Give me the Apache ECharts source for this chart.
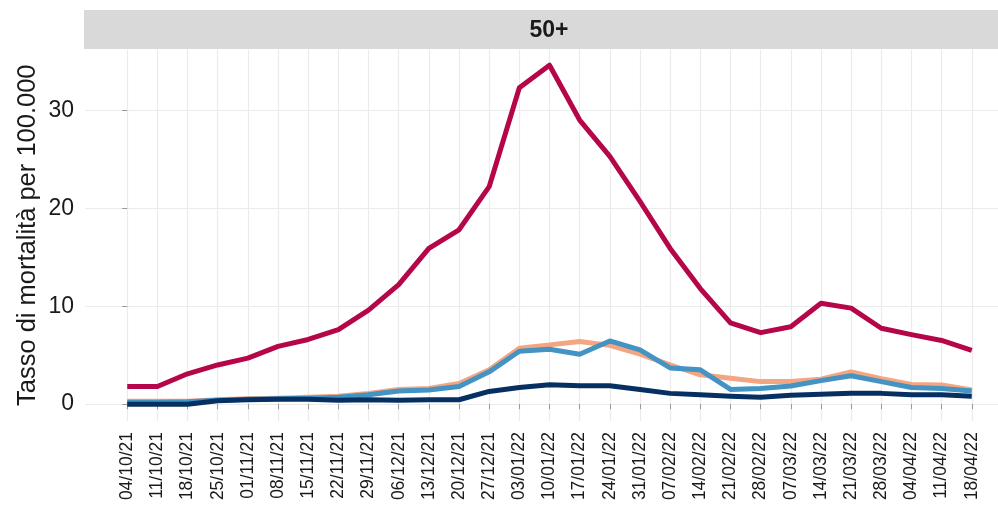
<!DOCTYPE html>
<html>
<head>
<meta charset="utf-8">
<script src="https://cdn.jsdelivr.net/npm/echarts@6/dist/echarts.min.js"></script>
<style>
html,body{margin:0;padding:0;background:#fff;}
#chart{width:998px;height:509px;}
</style>
</head>
<body>
<div id="chart"></div>
<script>
const weeks = ["04/10/21","11/10/21","18/10/21","25/10/21","01/11/21","08/11/21","15/11/21","22/11/21","29/11/21","06/12/21","13/12/21","20/12/21","27/12/21","03/01/22","10/01/22","17/01/22","24/01/22","31/01/22","07/02/22","14/02/22","21/02/22","28/02/22","07/03/22","14/03/22","21/03/22","28/03/22","04/04/22","11/04/22","18/04/22"];
const facetLabel = "50+";
const yTitle = "Tasso di mortalità per 100.000";
const yTicks = [0, 10, 20, 30];

const nonVaccinati = [1.8,1.8,3.1,4.0,4.7,5.9,6.6,7.6,9.6,12.2,15.9,17.8,22.2,32.3,34.6,29.0,25.3,20.7,15.9,11.8,8.3,7.3,7.9,10.3,9.8,7.75,7.1,6.5,5.5];
const oltre120 = [0.3,0.3,0.3,0.45,0.55,0.6,0.7,0.8,1.1,1.5,1.6,2.1,3.5,5.7,6.05,6.4,6.0,5.1,4.0,3.0,2.65,2.3,2.3,2.55,3.3,2.6,2.0,1.95,1.45];
const entro120 = [0.2,0.2,0.25,0.4,0.5,0.55,0.6,0.7,0.95,1.35,1.45,1.8,3.3,5.4,5.6,5.1,6.45,5.55,3.7,3.5,1.5,1.6,1.85,2.4,2.9,2.3,1.7,1.6,1.35];
const booster = [0.0,0.0,0.0,0.35,0.45,0.5,0.5,0.4,0.45,0.4,0.45,0.45,1.3,1.7,1.97,1.87,1.87,1.5,1.1,0.95,0.8,0.7,0.9,1.0,1.1,1.1,0.95,0.95,0.8];

const seriesNames = ["Non vaccinati","Vaccinati ciclo completo da oltre 120 giorni","Vaccinati ciclo completo entro 120 giorni","Vaccinati con dose aggiuntiva/booster"];
const seriesColors = ["#B50649","#F4A582","#4393C3","#053061"];
const seriesData = [nonVaccinati, oltre120, entro120, booster];

const idx = weeks.map((w, i) => i);

const chart = echarts.init(document.getElementById('chart'), null, {renderer: 'canvas'});
chart.setOption({
  animation: false,
  backgroundColor: '#ffffff',
  grid: {left: 85, top: 49.5, width: 929, height: 371.5, containLabel: false, outerBoundsMode: 'none'},
  xAxis: {
    type: 'value', min: -1.4, max: 29.4,
    axisLine: {show: false},
    axisTick: {show: true, length: 5, lineStyle: {color: '#999'}, customValues: idx},
    axisLabel: {customValues: idx, rotate: 90, fontSize: 17.5, color: '#1a1a1a', margin: 11,
      fontFamily: 'Liberation Sans, Arial, sans-serif',
      formatter: v => weeks[Math.round(v)]},
    splitLine: {show: true, lineStyle: {color: '#ebebeb', width: 1.2}}
  },
  yAxis: {
    type: 'value', min: -1.72, max: 36.2,
    name: yTitle, nameLocation: 'middle', nameRotate: 90, nameGap: 44, nameMoveOverlap: false,
    nameTextStyle: {fontSize: 25.5, color: '#1a1a1a', fontFamily: 'Liberation Sans, Arial, sans-serif'},
    axisLine: {show: false},
    axisTick: {show: true, length: 5, lineStyle: {color: '#999'}, customValues: yTicks},
    axisLabel: {customValues: yTicks, fontSize: 23, color: '#1a1a1a', margin: 11,
      fontFamily: 'Liberation Sans, Arial, sans-serif'},
    splitLine: {show: true, lineStyle: {color: '#ebebeb', width: 1.2}}
  },
  graphic: [
    {type: 'rect', z: 10, shape: {x: 84, y: 10, width: 940, height: 39}, style: {fill: '#d9d9d9'}},
    {type: 'text', z: 11, x: 549, y: 31, style: {text: facetLabel, font: 'bold 23px "Liberation Sans", Arial, sans-serif', fill: '#1a1a1a', align: 'center', verticalAlign: 'middle'}}
  ],
  series: seriesData.map((d, k) => ({
    name: seriesNames[k], type: 'line', showSymbol: false, symbol: 'none',
    data: d.map((v, i) => [idx[i], v]),
    lineStyle: {color: seriesColors[k], width: 5, join: 'round'},
    itemStyle: {color: seriesColors[k]},
    z: 2 + k
  }))
});
</script>
</body>
</html>
